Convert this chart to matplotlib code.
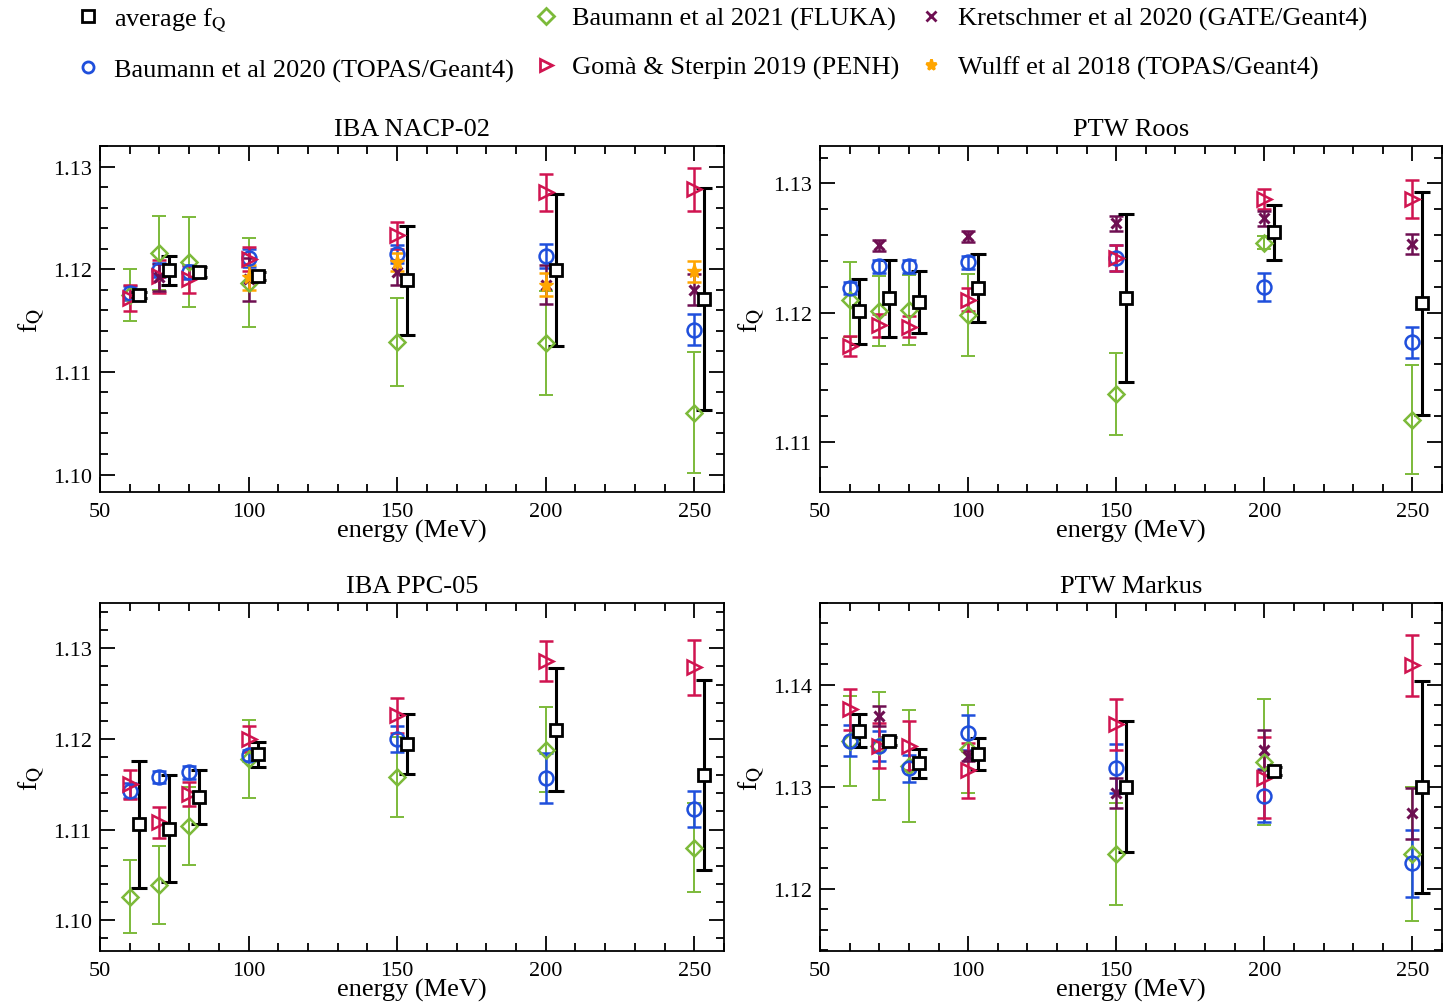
import numpy as np
import matplotlib
matplotlib.use("Agg")
from matplotlib import pyplot as plt
from matplotlib.lines import Line2D
from matplotlib.ticker import MultipleLocator, FormatStrFormatter

plt.rcParams['font.family'] = ['Liberation Serif', 'DejaVu Serif']
plt.rcParams['mathtext.fontset'] = 'stix'

nan = np.nan
energies = [60, 70, 80, 100, 150, 200, 250]

# IBA NACP-02
nacp_avg = [1.1175, 1.1199, 1.1197, 1.1193, 1.1189, 1.1199, 1.1171]
nacp_avg_err = [0.0003, 0.0014, 0.0005, 0.0004, 0.0053, 0.0074, 0.0108]
nacp_fluka = [1.1175, 1.1216, 1.1207, 1.1187, 1.1129, 1.1128, 1.1060]
nacp_fluka_err = [0.0025, 0.0036, 0.0044, 0.0043, 0.0043, 0.0051, 0.0059]
nacp_topas = [1.1177, 1.1199, 1.1197, 1.1211, 1.1215, 1.1213, 1.1141]
nacp_topas_err = [0.0007, 0.0007, 0.0007, 0.0009, 0.0009, 0.0012, 0.0015]
nacp_penh = [1.1172, 1.1193, 1.1190, 1.1210, 1.1233, 1.1275, 1.1278]
nacp_penh_err = [0.0013, 0.0016, 0.0013, 0.0012, 0.0013, 0.0018, 0.0021]
nacp_gate = [nan, 1.1192, nan, 1.1190, 1.1197, 1.1185, 1.1180]
nacp_gate_err = [nan, 0.0013, nan, 0.0021, 0.0012, 0.0019, 0.0015]
nacp_wulff = [nan, nan, nan, 1.1192, 1.1207, 1.1185, 1.1198]
nacp_wulff_err = [nan, nan, nan, 0.0012, 0.0009, 0.0011, 0.0010]

# PTW Roos
roos_avg = [1.1201, 1.1211, 1.1208, 1.1219, 1.1211, 1.1262, 1.1207]
roos_avg_err = [0.0025, 0.0030, 0.0024, 0.0026, 0.0065, 0.0021, 0.0086]
roos_fluka = [1.1210, 1.1201, 1.1202, 1.1198, 1.1137, 1.1254, 1.1117]
roos_fluka_err = [0.0029, 0.0027, 0.0027, 0.0032, 0.0032, 0.0005, 0.0042]
roos_topas = [1.1219, 1.1236, 1.1236, 1.1239, 1.1242, 1.1220, 1.1177]
roos_topas_err = [0.0005, 0.0005, 0.0005, 0.0005, 0.0010, 0.0011, 0.0012]
roos_penh = [1.1174, 1.1190, 1.1189, 1.1210, 1.1242, 1.1288, 1.1288]
roos_penh_err = [0.0008, 0.0009, 0.0008, 0.0009, 0.0010, 0.0008, 0.0015]
roos_gate = [nan, 1.1252, nan, 1.1259, 1.1269, 1.1273, 1.1253]
roos_gate_err = [nan, 0.0004, nan, 0.0004, 0.0006, 0.0006, 0.0008]

# IBA PPC-05
ppc_avg = [1.1106, 1.1101, 1.1136, 1.1183, 1.1194, 1.1210, 1.1160]
ppc_avg_err = [0.0070, 0.0059, 0.0030, 0.0014, 0.0033, 0.0068, 0.0105]
ppc_fluka = [1.1026, 1.1039, 1.1104, 1.1178, 1.1158, 1.1188, 1.1080]
ppc_fluka_err = [0.0040, 0.0043, 0.0043, 0.0043, 0.0044, 0.0047, 0.0049]
ppc_topas = [1.1143, 1.1158, 1.1163, 1.1182, 1.1200, 1.1157, 1.1123]
ppc_topas_err = [0.0008, 0.0007, 0.0007, 0.0006, 0.0014, 0.0028, 0.0020]
ppc_penh = [1.1150, 1.1108, 1.1139, 1.1200, 1.1226, 1.1286, 1.1279]
ppc_penh_err = [0.0016, 0.0017, 0.0013, 0.0014, 0.0019, 0.0022, 0.0030]

# PTW Markus
markus_avg = [1.1355, 1.1345, 1.1323, 1.1332, 1.1300, 1.1315, 1.1300]
markus_avg_err = [0.0016, 0.0004, 0.0014, 0.0016, 0.0064, 0.0004, 0.0104]
markus_fluka = [1.1345, 1.1340, 1.1320, 1.1337, 1.1234, 1.1324, 1.1234]
markus_fluka_err = [0.0044, 0.0053, 0.0055, 0.0043, 0.0050, 0.0062, 0.0066]
markus_topas = [1.1345, 1.1340, 1.1318, 1.1353, 1.1318, 1.1291, 1.1225]
markus_topas_err = [0.0015, 0.0015, 0.0013, 0.0017, 0.0024, 0.0026, 0.0033]
markus_penh = [1.1376, 1.1340, 1.1340, 1.1316, 1.1361, 1.1309, 1.1419]
markus_penh_err = [0.0020, 0.0022, 0.0024, 0.0027, 0.0025, 0.0040, 0.0030]
markus_gate = [nan, 1.1369, nan, 1.1330, 1.1294, 1.1336, 1.1274]
markus_gate_err = [nan, 0.0010, nan, 0.0005, 0.0015, 0.0020, 0.0025]

labels = ["average f$_{\\rm Q}$", "Baumann et al 2020 (TOPAS/Geant4)",
          "Baumann et al 2021 (FLUKA)", "Gomà & Sterpin 2019 (PENH)",
          "Kretschmer et al 2020 (GATE/Geant4)", "Wulff et al 2018 (TOPAS/Geant4)"]

c_green = '#7cba3a'
c_blue = '#1f4fdc'
c_red = '#d01450'
c_purple = '#6e0f52'
c_orange = '#ffa500'

style = {
    'fluka': dict(color=c_green, marker='D', ms=8, mfc='none', mew=1.8, lw=1.4),
    'topas': dict(color=c_blue, marker='o', ms=10, mfc='none', mew=1.8, lw=1.8),
    'penh': dict(color=c_red, marker='>', ms=10, mfc='none', mew=1.8, lw=1.8),
    'gate': dict(color=c_purple, marker='x', ms=7, mfc='none', mew=2.2, lw=1.8),
    'wulff': dict(color=c_orange, marker='*', ms=11, mfc=c_orange, mew=1.0, lw=1.8),
    'avg': dict(color='black', marker='s', ms=9, mfc='white', mew=2.0, lw=2.2),
}

panels = [
    ("IBA NACP-02", [0.0687, 0.509, 0.4289, 0.3446], (1.0983, 1.132),
     [('fluka', nacp_fluka, nacp_fluka_err), ('topas', nacp_topas, nacp_topas_err),
      ('penh', nacp_penh, nacp_penh_err), ('gate', nacp_gate, nacp_gate_err),
      ('wulff', nacp_wulff, nacp_wulff_err), ('avg', nacp_avg, nacp_avg_err)]),
    ("PTW Roos", [0.5636, 0.509, 0.4275, 0.3446], (1.1061, 1.1329),
     [('fluka', roos_fluka, roos_fluka_err), ('topas', roos_topas, roos_topas_err),
      ('penh', roos_penh, roos_penh_err), ('gate', roos_gate, roos_gate_err),
      ('avg', roos_avg, roos_avg_err)]),
    ("IBA PPC-05", [0.0687, 0.0518, 0.4289, 0.3466], (1.0966, 1.135),
     [('fluka', ppc_fluka, ppc_fluka_err), ('topas', ppc_topas, ppc_topas_err),
      ('penh', ppc_penh, ppc_penh_err), ('avg', ppc_avg, ppc_avg_err)]),
    ("PTW Markus", [0.5636, 0.0518, 0.4275, 0.3466], (1.1139, 1.148),
     [('fluka', markus_fluka, markus_fluka_err), ('topas', markus_topas, markus_topas_err),
      ('penh', markus_penh, markus_penh_err), ('gate', markus_gate, markus_gate_err),
      ('avg', markus_avg, markus_avg_err)]),
]

fig = plt.figure(figsize=(14.55, 10.04), dpi=100)

for title, rect, ylim, series in panels:
    ax = fig.add_axes(rect)
    for key, vals, errs in series:
        st = style[key]
        x = np.array(energies, dtype=float)
        if key == 'avg':
            x = x + 3.3
        ax.errorbar(x, vals, yerr=errs, fmt='none', ecolor=st['color'],
                    elinewidth=st['lw'], capsize=5 if key != 'avg' else 5.5,
                    capthick=st['lw'], zorder=2)
        ax.plot(x, vals, ls='none', marker=st['marker'], ms=st['ms'],
                mfc=st['mfc'], mec=st['color'], mew=st['mew'], zorder=3)
    ax.set_xlim(50, 260)
    ax.set_ylim(*ylim)
    ax.xaxis.set_major_locator(MultipleLocator(50))
    ax.xaxis.set_minor_locator(MultipleLocator(10))
    ax.yaxis.set_major_locator(MultipleLocator(0.01))
    ax.yaxis.set_minor_locator(MultipleLocator(0.002))
    ax.yaxis.set_major_formatter(FormatStrFormatter('%.2f'))
    ax.tick_params(which='both', direction='in', top=True, right=True,
                   labelsize=16, width=1.3)
    ax.tick_params(which='major', length=11)
    ax.tick_params(which='minor', length=5.5)
    ax.tick_params(axis='x', which='major', pad=7)
    ax.tick_params(axis='y', which='major', pad=6)
    for sp in ax.spines.values():
        sp.set_linewidth(1.3)
    ax.set_title(title, fontsize=19, pad=8)
    ax.set_xlabel("energy (MeV)", fontsize=19, labelpad=-1)
    ax.set_ylabel("f$_{\\rm Q}$", fontsize=20, labelpad=4)

keys = ['avg', 'topas', 'fluka', 'penh', 'gate', 'wulff']
handles = []
for k in keys:
    st = style[k]
    handles.append(Line2D([], [], ls='none', marker=st['marker'], ms=min(st['ms'], 8),
                          mfc=st['mfc'], mec=st['color'], mew=2.0))
fig.legend(handles, labels, loc='upper left', bbox_to_anchor=(0.036, 1.017),
           ncol=3, frameon=False, fontsize=19, handlelength=0.9, handletextpad=0.55,
           columnspacing=0.75, labelspacing=0.95)

fig.savefig("out.png", dpi=100)
